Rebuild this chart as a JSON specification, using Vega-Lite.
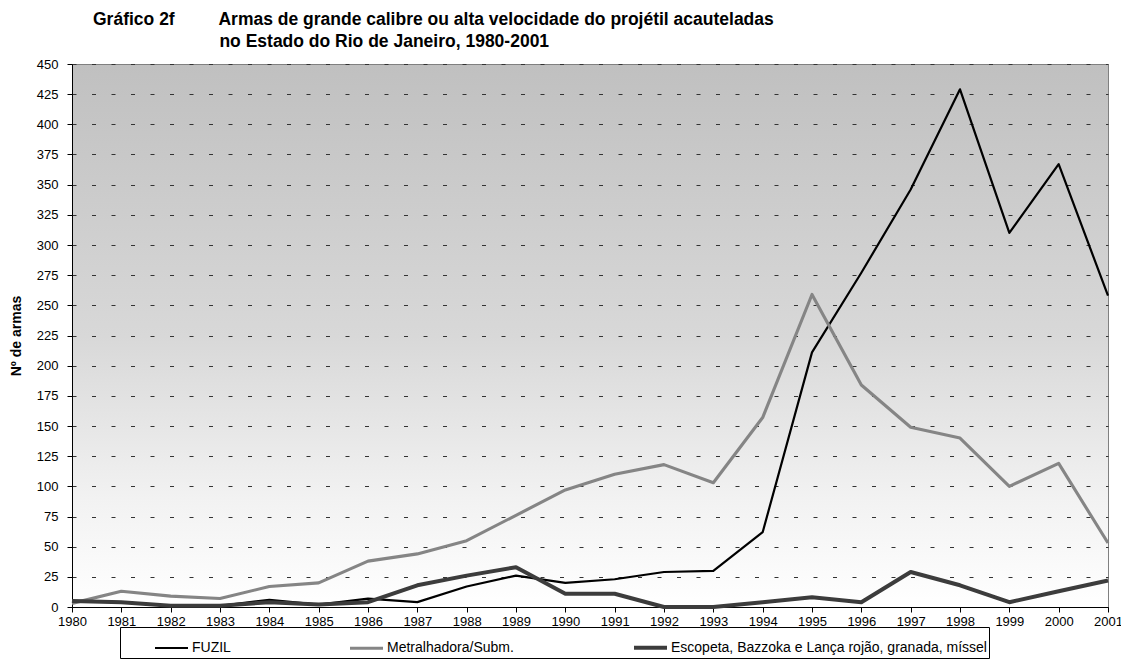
{
  "$schema": "https://vega.github.io/schema/vega-lite/v6.json",
  "width": 1036,
  "height": 543,
  "autosize": "none",
  "padding": {"left": 72, "top": 64, "right": 13, "bottom": 53},
  "background": "white",
  "title": {
    "text": [
      "Gráfico 2f\u00a0\u00a0\u00a0\u00a0\u00a0\u00a0\u00a0\u00a0\u00a0Armas de grande calibre ou alta velocidade do projétil acauteladas",
      "\u200b\u00a0\u00a0\u00a0\u00a0\u00a0\u00a0\u00a0\u00a0\u00a0\u00a0\u00a0\u00a0\u00a0\u00a0\u00a0\u00a0\u00a0\u00a0\u00a0\u00a0\u00a0\u00a0\u00a0\u00a0\u00a0\u00a0no Estado do Rio de Janeiro, 1980-2001"
    ],
    "anchor": "start",
    "frame": "group",
    "dx": 21,
    "offset": 7,
    "font": "Liberation Sans",
    "fontSize": 17.5,
    "fontWeight": "bold",
    "lineHeight": 22.6,
    "color": "black"
  },
  "data": {
    "values": [
      {"ano": 1980, "serie": "FUZIL", "valor": 5},
      {"ano": 1981, "serie": "FUZIL", "valor": 4},
      {"ano": 1982, "serie": "FUZIL", "valor": 1},
      {"ano": 1983, "serie": "FUZIL", "valor": 1},
      {"ano": 1984, "serie": "FUZIL", "valor": 6},
      {"ano": 1985, "serie": "FUZIL", "valor": 2},
      {"ano": 1986, "serie": "FUZIL", "valor": 7},
      {"ano": 1987, "serie": "FUZIL", "valor": 4},
      {"ano": 1988, "serie": "FUZIL", "valor": 17},
      {"ano": 1989, "serie": "FUZIL", "valor": 26},
      {"ano": 1990, "serie": "FUZIL", "valor": 20},
      {"ano": 1991, "serie": "FUZIL", "valor": 23},
      {"ano": 1992, "serie": "FUZIL", "valor": 29},
      {"ano": 1993, "serie": "FUZIL", "valor": 30},
      {"ano": 1994, "serie": "FUZIL", "valor": 62},
      {"ano": 1995, "serie": "FUZIL", "valor": 211},
      {"ano": 1996, "serie": "FUZIL", "valor": 277},
      {"ano": 1997, "serie": "FUZIL", "valor": 346},
      {"ano": 1998, "serie": "FUZIL", "valor": 429},
      {"ano": 1999, "serie": "FUZIL", "valor": 310},
      {"ano": 2000, "serie": "FUZIL", "valor": 367},
      {"ano": 2001, "serie": "FUZIL", "valor": 258},
      {"ano": 1980, "serie": "Metralhadora/Subm.", "valor": 3},
      {"ano": 1981, "serie": "Metralhadora/Subm.", "valor": 13},
      {"ano": 1982, "serie": "Metralhadora/Subm.", "valor": 9},
      {"ano": 1983, "serie": "Metralhadora/Subm.", "valor": 7},
      {"ano": 1984, "serie": "Metralhadora/Subm.", "valor": 17},
      {"ano": 1985, "serie": "Metralhadora/Subm.", "valor": 20},
      {"ano": 1986, "serie": "Metralhadora/Subm.", "valor": 38},
      {"ano": 1987, "serie": "Metralhadora/Subm.", "valor": 44},
      {"ano": 1988, "serie": "Metralhadora/Subm.", "valor": 55},
      {"ano": 1989, "serie": "Metralhadora/Subm.", "valor": 76},
      {"ano": 1990, "serie": "Metralhadora/Subm.", "valor": 97},
      {"ano": 1991, "serie": "Metralhadora/Subm.", "valor": 110},
      {"ano": 1992, "serie": "Metralhadora/Subm.", "valor": 118},
      {"ano": 1993, "serie": "Metralhadora/Subm.", "valor": 103},
      {"ano": 1994, "serie": "Metralhadora/Subm.", "valor": 157},
      {"ano": 1995, "serie": "Metralhadora/Subm.", "valor": 259},
      {"ano": 1996, "serie": "Metralhadora/Subm.", "valor": 184},
      {"ano": 1997, "serie": "Metralhadora/Subm.", "valor": 149},
      {"ano": 1998, "serie": "Metralhadora/Subm.", "valor": 140},
      {"ano": 1999, "serie": "Metralhadora/Subm.", "valor": 100},
      {"ano": 2000, "serie": "Metralhadora/Subm.", "valor": 119},
      {"ano": 2001, "serie": "Metralhadora/Subm.", "valor": 53},
      {"ano": 1980, "serie": "Escopeta, Bazzoka e Lança rojão, granada, míssel", "valor": 5},
      {"ano": 1981, "serie": "Escopeta, Bazzoka e Lança rojão, granada, míssel", "valor": 4},
      {"ano": 1982, "serie": "Escopeta, Bazzoka e Lança rojão, granada, míssel", "valor": 1},
      {"ano": 1983, "serie": "Escopeta, Bazzoka e Lança rojão, granada, míssel", "valor": 1},
      {"ano": 1984, "serie": "Escopeta, Bazzoka e Lança rojão, granada, míssel", "valor": 4},
      {"ano": 1985, "serie": "Escopeta, Bazzoka e Lança rojão, granada, míssel", "valor": 2},
      {"ano": 1986, "serie": "Escopeta, Bazzoka e Lança rojão, granada, míssel", "valor": 4},
      {"ano": 1987, "serie": "Escopeta, Bazzoka e Lança rojão, granada, míssel", "valor": 18},
      {"ano": 1988, "serie": "Escopeta, Bazzoka e Lança rojão, granada, míssel", "valor": 26},
      {"ano": 1989, "serie": "Escopeta, Bazzoka e Lança rojão, granada, míssel", "valor": 33},
      {"ano": 1990, "serie": "Escopeta, Bazzoka e Lança rojão, granada, míssel", "valor": 11},
      {"ano": 1991, "serie": "Escopeta, Bazzoka e Lança rojão, granada, míssel", "valor": 11},
      {"ano": 1992, "serie": "Escopeta, Bazzoka e Lança rojão, granada, míssel", "valor": 0},
      {"ano": 1993, "serie": "Escopeta, Bazzoka e Lança rojão, granada, míssel", "valor": 0},
      {"ano": 1994, "serie": "Escopeta, Bazzoka e Lança rojão, granada, míssel", "valor": 4},
      {"ano": 1995, "serie": "Escopeta, Bazzoka e Lança rojão, granada, míssel", "valor": 8},
      {"ano": 1996, "serie": "Escopeta, Bazzoka e Lança rojão, granada, míssel", "valor": 4},
      {"ano": 1997, "serie": "Escopeta, Bazzoka e Lança rojão, granada, míssel", "valor": 29},
      {"ano": 1998, "serie": "Escopeta, Bazzoka e Lança rojão, granada, míssel", "valor": 18},
      {"ano": 1999, "serie": "Escopeta, Bazzoka e Lança rojão, granada, míssel", "valor": 4},
      {"ano": 2000, "serie": "Escopeta, Bazzoka e Lança rojão, granada, míssel", "valor": 13},
      {"ano": 2001, "serie": "Escopeta, Bazzoka e Lança rojão, granada, míssel", "valor": 22}
    ]
  },
  "mark": {"type": "line", "strokeJoin": "round"},
  "encoding": {
    "x": {
      "field": "ano",
      "type": "quantitative",
      "scale": {"domain": [1980, 2001], "nice": false, "zero": false},
      "axis": {
        "values": [1980, 1981, 1982, 1983, 1984, 1985, 1986, 1987, 1988, 1989, 1990, 1991, 1992, 1993, 1994, 1995, 1996, 1997, 1998, 1999, 2000, 2001],
        "format": "d",
        "title": null,
        "grid": false,
        "domainColor": "black",
        "tickColor": "black",
        "tickSize": 5,
        "labelPadding": 3,
        "labelFontSize": 13,
        "labelColor": "black",
        "labelFlush": false,
        "labelOverlap": false
      }
    },
    "y": {
      "field": "valor",
      "type": "quantitative",
      "scale": {"domain": [0, 450], "nice": false},
      "axis": {
        "values": [0, 25, 50, 75, 100, 125, 150, 175, 200, 225, 250, 275, 300, 325, 350, 375, 400, 425, 450],
        "title": "Nº de armas",
        "titleFontSize": 14,
        "titleFontWeight": "bold",
        "titleColor": "black",
        "titlePadding": 13,
        "grid": true,
        "gridDash": [4, 15.5],
        "gridColor": "#333333",
        "gridOpacity": 1,
        "domainColor": "black",
        "tickColor": "black",
        "tickSize": 5,
        "labelPadding": 9,
        "labelFontSize": 13,
        "labelColor": "black",
        "labelFlush": false,
        "labelOverlap": false
      }
    },
    "color": {
      "field": "serie",
      "type": "nominal",
      "scale": {
        "domain": ["FUZIL", "Metralhadora/Subm.", "Escopeta, Bazzoka e Lança rojão, granada, míssel"],
        "range": ["#000000", "#858585", "#3c3c3c"]
      },
      "legend": {
        "orient": "none",
        "legendX": 48,
        "legendY": 563,
        "direction": "horizontal",
        "columns": 3,
        "columnPadding": 112,
        "title": "\u00a0",
        "titleOrient": "left",
        "titlePadding": 31,
        "symbolType": "stroke",
        "symbolSize": 1089,
        "labelFontSize": 14,
        "labelColor": "black",
        "labelOffset": 2,
        "labelLimit": 500,
        "strokeColor": "black",
        "padding": 2,
        "fillColor": "white"
      }
    },
    "strokeWidth": {
      "field": "serie",
      "type": "nominal",
      "scale": {
        "domain": ["FUZIL", "Metralhadora/Subm.", "Escopeta, Bazzoka e Lança rojão, granada, míssel"],
        "range": [2.2, 4, 4]
      },
      "legend": {
        "orient": "none",
        "legendX": 48,
        "legendY": 563,
        "direction": "horizontal",
        "columns": 3,
        "columnPadding": 112,
        "title": "\u00a0",
        "titleOrient": "left",
        "titlePadding": 31,
        "symbolType": "stroke",
        "symbolSize": 1089,
        "labelFontSize": 14,
        "labelColor": "black",
        "labelOffset": 2,
        "labelLimit": 500,
        "strokeColor": "black",
        "padding": 2,
        "fillColor": "white"
      }
    }
  },
  "config": {
    "font": "Liberation Sans",
    "view": {
      "fill": {
        "gradient": "linear",
        "x1": 0, "y1": 1, "x2": 0, "y2": 0,
        "stops": [
          {"offset": 0, "color": "#ffffff"},
          {"offset": 0.2, "color": "#f2f2f2"},
          {"offset": 0.5, "color": "#d8d8d8"},
          {"offset": 1, "color": "#c0c0c0"}
        ]
      },
      "stroke": "#808080",
      "strokeWidth": 1
    }
  }
}
